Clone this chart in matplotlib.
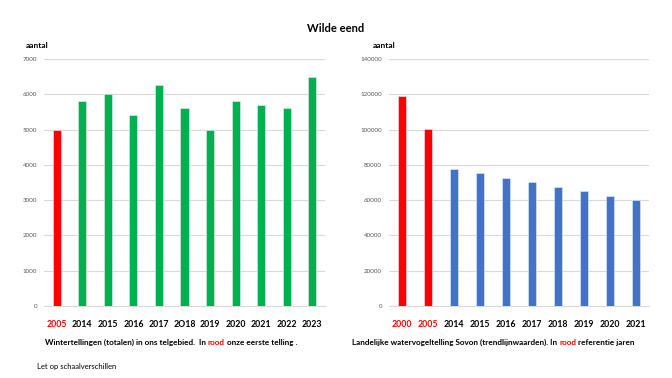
import matplotlib.pyplot as plt

plt.rcParams['font.family'] = ['Lato', 'DejaVu Sans']

# Wintertellingen in ons telgebied
jaren_links = ['2005', '2014', '2015', '2016', '2017', '2O18', '2019', '2020', '2021', '2022', '2023']
aantal_links = [5000, 5800, 6000, 5400, 6250, 5600, 5000, 5800, 5700, 5600, 6500]
rood_links = ['2005']

# Landelijke watervogeltelling Sovon (trendlijnwaarden)
jaren_rechts = ['2000', '2005', '2014', '2015', '2016', '2017', '2018', '2019', '2020', '2021']
aantal_rechts = [119000, 100300, 77800, 75300, 72800, 70200, 67500, 64900, 62300, 59800]
rood_rechts = ['2000', '2005']

RED = '#FF0000'
GREEN = '#00B050'
BLUE = '#4472C4'
GRID = '#D9D9D9'

fig = plt.figure(figsize=(6.72, 3.78), dpi=100)
ax1 = fig.add_axes([44/672, 1-306/378, 281/672, 247/378])
ax2 = fig.add_axes([389/672, 1-306/378, 260/672, 247/378])


def draw(ax, jaren, waarden, rood, kleur, ymax, step):
    x = list(range(len(jaren)))
    colors = [RED if j in rood else kleur for j in jaren]
    ax.bar(x, waarden, width=0.32, color=colors, edgecolor='#E8EEF8', linewidth=0.4, zorder=3)
    ax.set_xlim(-0.5, len(jaren) - 0.5)
    ax.set_ylim(0, ymax)
    ax.set_yticks(range(0, ymax + 1, step))
    ax.grid(axis='y', color=GRID, linewidth=0.8, zorder=0)
    for s in ['top', 'right', 'left']:
        ax.spines[s].set_visible(False)
    ax.spines['bottom'].set_color(GRID)
    ax.spines['bottom'].set_linewidth(0.8)
    ax.tick_params(axis='y', length=0, labelsize=4.5, labelcolor='#595959', pad=5)
    ax.tick_params(axis='x', length=0, pad=10)
    ax.set_xticks(x)
    ax.set_xticklabels(jaren, fontsize=6.3, fontweight='bold')
    for lbl, j in zip(ax.get_xticklabels(), jaren):
        lbl.set_color(RED if j in rood else 'black')


draw(ax1, jaren_links, aantal_links, rood_links, GREEN, 7000, 1000)
draw(ax2, jaren_rechts, aantal_rechts, rood_rechts, BLUE, 140000, 20000)

fig.text(336/672, 1-29/378, 'Wilde eend', ha='center', va='center', fontsize=8, fontweight='bold')
fig.text(26/672, 1-45/378, 'aantal', ha='left', va='center', fontsize=6, fontweight='bold')
fig.text(373/672, 1-45/378, 'aantal', ha='left', va='center', fontsize=6, fontweight='bold')

renderer = fig.canvas.get_renderer()


# caption with a red word in the middle: place pieces one after another
def caption(x, y, parts, size=5.9):
    for s, c in parts:
        t = fig.text(x, y, s, color=c, fontsize=size, fontweight='bold', va='baseline', ha='left')
        bb = t.get_window_extent(renderer)
        x = x + bb.width / fig.bbox.width


caption(45/672, 1-345/378, [('Wintertellingen (totalen) in ons telgebied.  In ', 'black'),
                            ('rood', RED), (' onze eerste telling .', 'black')])
caption(352/672, 1-345/378, [('Landelijke watervogeltelling Sovon (trendlijnwaarden). In ', 'black'),
                             ('rood', RED), (' referentie jaren', 'black')])

fig.text(37/672, 1-367/378, 'Let op schaalverschillen', ha='left', va='center', fontsize=5.5)

plt.savefig('out.png', dpi=100)
